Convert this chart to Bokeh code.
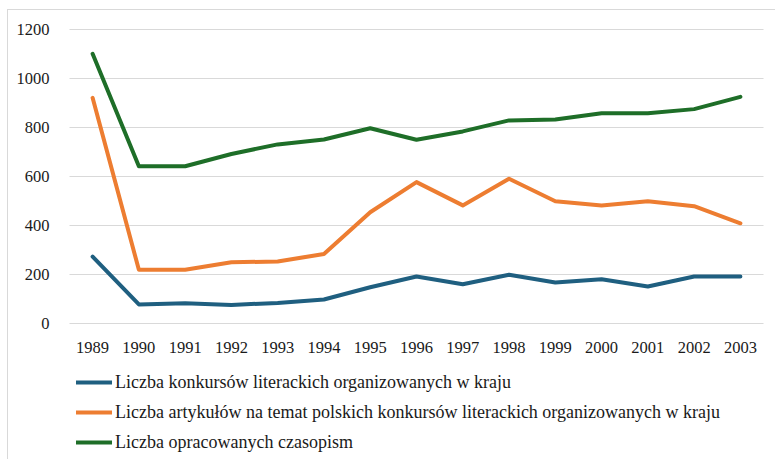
from bokeh.plotting import figure
from bokeh.models import Range1d, Legend, LegendItem, ColumnDataSource, FixedTicker
from bokeh.embed import file_html
from bokeh.resources import INLINE

years = [1989, 1990, 1991, 1992, 1993, 1994, 1995, 1996,
         1997, 1998, 1999, 2000, 2001, 2002, 2003]
year_labels = [str(y) for y in years]
konkursy = [273, 78, 83, 76, 84, 98, 148, 192, 160, 199, 167, 181, 151, 192, 192]
artykuly = [921, 219, 219, 250, 253, 284, 454, 577, 482, 591, 499, 482, 499, 479, 409]
czasopisma = [1101, 642, 642, 692, 731, 751, 797, 750, 784, 829, 833, 858, 858, 875, 925]

labels = ["Liczba konkursów literackich organizowanych w kraju",
          "Liczba artykułów na temat polskich konkursów literackich organizowanych w kraju",
          "Liczba opracowanych czasopism"]
colors = ["#1F5F80", "#ED7D31", "#1E6E28"]
y_ticks = [0, 200, 400, 600, 800, 1000, 1200]

FONT = "Liberation Serif"

# layout (pixels): frame covers the whole canvas; axes are placed inside it
W, H = 768, 450
PX_PER_YEAR = 46.27
PX_PER_UNIT = 294 / 1200
x0 = years[0] - 84.1 / PX_PER_YEAR
x1 = years[-1] + 36.1 / PX_PER_YEAR
y1 = 1200 + 19 / PX_PER_UNIT
y0 = 0 - 137 / PX_PER_UNIT

p = figure(width=W, height=H, x_range=Range1d(x0, x1), y_range=Range1d(y0, y1),
           output_backend="svg", toolbar_location=None,
           min_border_left=0, min_border_right=0, min_border_top=0, min_border_bottom=0)
p.styles = {"margin-left": "7px", "margin-top": "9px",
            "border-left": "1px solid #d9d9d9", "border-top": "1px solid #d9d9d9"}
p.outline_line_color = None
p.background_fill_color = "white"
p.border_fill_color = "white"

src = ColumnDataSource(dict(x=years, a=konkursy, b=artykuly, c=czasopisma))
renderers = []
for col, color in zip(["a", "b", "c"], colors):
    r = p.line("x", col, source=src, line_color=color, line_width=4, line_join="round", line_cap="round")
    renderers.append(r)

p.xaxis.fixed_location = 0
p.yaxis.fixed_location = years[0] - 0.5
p.xaxis.ticker = FixedTicker(ticks=years)
p.xaxis.major_label_overrides = {y: s for y, s in zip(years, year_labels)}
p.yaxis.ticker = FixedTicker(ticks=y_ticks)
p.ygrid.grid_line_color = "#d9d9d9"
p.ygrid.grid_line_width = 1
p.ygrid.cross_bounds = (years[0] - 0.5, years[-1] + 0.5)
p.xgrid.grid_line_color = None
for ax in (p.xaxis, p.yaxis):
    ax.axis_line_color = None
    ax.major_tick_line_color = None
    ax.minor_tick_line_color = None
    ax.major_label_text_font = FONT
    ax.major_label_text_font_size = "16.5px"
    ax.major_label_text_color = "#1a1a1a"
p.yaxis.major_label_standoff = 14
p.xaxis.major_label_standoff = 12

legend = Legend(items=[LegendItem(label=l, renderers=[r]) for l, r in zip(labels, renderers)],
                location=(68, 7), orientation="vertical")
legend.label_text_font = FONT
legend.label_text_font_size = "18px"
legend.label_text_color = "#1a1a1a"
legend.glyph_width = 36
legend.glyph_height = 22
legend.label_height = 22
legend.label_standoff = 3
legend.spacing = 8
legend.padding = 0
legend.margin = 0
legend.border_line_color = None
legend.background_fill_alpha = 0
p.add_layout(legend, "center")

open("out.html", "w").write(file_html(p, INLINE))
